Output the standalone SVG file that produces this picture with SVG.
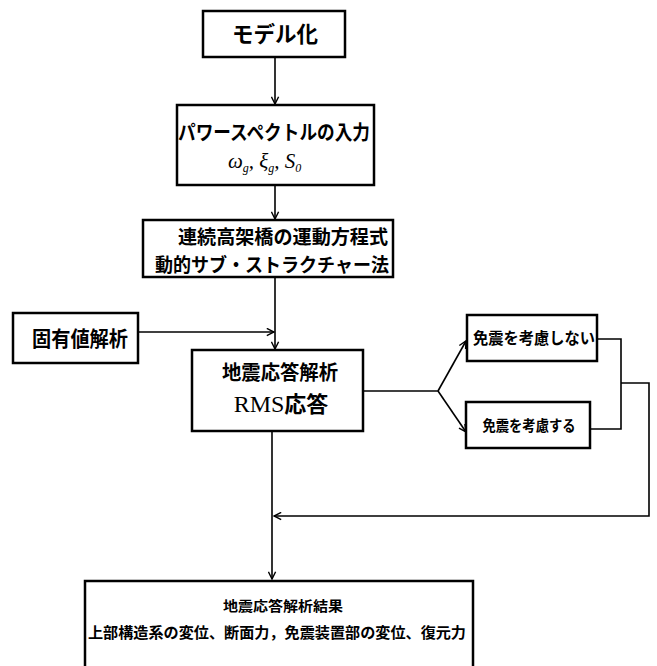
<svg xmlns="http://www.w3.org/2000/svg" width="657" height="666" viewBox="0 0 657 666">
<style>
.box{fill:#fff;stroke:#000;stroke-width:2.5}
.ln{fill:none;stroke:#000;stroke-width:1.6}
.jp{font-family:"Noto Sans CJK JP","Noto Sans",sans-serif;font-weight:bold;fill:#000;text-anchor:middle}
.sr{font-family:"Liberation Serif",serif;fill:#000}
</style>
<defs>
<marker id="ah" viewBox="0 0 10 10" refX="9" refY="5" markerWidth="9" markerHeight="9" markerUnits="userSpaceOnUse" orient="auto">
<path d="M1,1 L9,5 L1,9" fill="none" stroke="#000" stroke-width="1.6"/>
</marker>
</defs>
<rect width="657" height="666" fill="#fff"/>
<g id="connectors">
<line class="ln" x1="275" y1="57" x2="275" y2="104" marker-end="url(#ah)"/>
<line class="ln" x1="275" y1="185" x2="275" y2="219" marker-end="url(#ah)"/>
<line class="ln" x1="275" y1="277" x2="275" y2="349" marker-end="url(#ah)"/>
<line class="ln" x1="138" y1="332" x2="274" y2="332" marker-end="url(#ah)"/>
<polyline class="ln" points="363,391 438,391"/>
<line class="ln" x1="438" y1="391" x2="466" y2="341" marker-end="url(#ah)"/>
<line class="ln" x1="438" y1="391" x2="466" y2="432" marker-end="url(#ah)"/>
<polyline class="ln" points="597,339 621,339 621,429 590,429"/>
<polyline class="ln" points="621,383 649,383 649,516 274,516" marker-end="url(#ah)"/>
<line class="ln" x1="272" y1="431" x2="272" y2="579" marker-end="url(#ah)"/>
</g>
<g id="n1">
<rect class="box" x="203" y="11" width="142" height="46"/>
<text class="jp" x="275" y="42" font-size="22" textLength="86" lengthAdjust="spacingAndGlyphs">モデル化</text>
</g>
<g id="n2">
<rect class="box" x="177" y="105" width="197" height="80"/>
<text class="jp" x="274" y="140" font-size="20" textLength="192" lengthAdjust="spacingAndGlyphs">パワースペクトルの入力</text>
<text class="sr" x="228" y="168" font-size="21" font-style="italic">ω<tspan font-size="12" dy="4">g</tspan><tspan dy="-4">, ξ</tspan><tspan font-size="12" dy="4">g</tspan><tspan dy="-4">, S</tspan><tspan font-size="12" dy="4">0</tspan></text>
</g>
<g id="n3">
<rect class="box" x="143" y="220" width="250" height="57"/>
<text class="jp" x="283" y="244" font-size="19" textLength="210" lengthAdjust="spacingAndGlyphs">連続高架橋の運動方程式</text>
<text class="jp" x="272" y="272" font-size="19" textLength="234" lengthAdjust="spacingAndGlyphs">動的サブ・ストラクチャー法</text>
</g>
<g id="n4">
<rect class="box" x="13" y="313" width="125" height="50"/>
<text class="jp" x="80" y="346" font-size="21" textLength="96" lengthAdjust="spacingAndGlyphs">固有値解析</text>
</g>
<g id="n5">
<rect class="box" x="192" y="350" width="171" height="81"/>
<text class="jp" x="280" y="380" font-size="20" textLength="116" lengthAdjust="spacingAndGlyphs">地震応答解析</text>
<text x="281" y="412" font-size="24" text-anchor="middle"><tspan class="sr">RMS</tspan><tspan font-family="Noto Sans CJK JP,sans-serif" font-weight="bold" font-size="22">応答</tspan></text>
</g>
<g id="n6">
<rect class="box" x="467" y="315" width="130" height="46"/>
<text class="jp" x="534" y="344" font-size="16" textLength="122" lengthAdjust="spacingAndGlyphs">免震を考慮しない</text>
</g>
<g id="n7">
<rect class="box" x="466" y="402" width="124" height="46"/>
<text class="jp" x="529" y="431" font-size="15" textLength="93" lengthAdjust="spacingAndGlyphs">免震を考慮する</text>
</g>
<g id="n8">
<rect class="box" x="85" y="581" width="388" height="100"/>
<text class="jp" x="283" y="611" font-size="14" textLength="120" lengthAdjust="spacingAndGlyphs">地震応答解析結果</text>
<text class="jp" x="277" y="638" font-size="15" textLength="378" lengthAdjust="spacingAndGlyphs">上部構造系の変位、断面力，免震装置部の変位、復元力</text>
</g>
</svg>
